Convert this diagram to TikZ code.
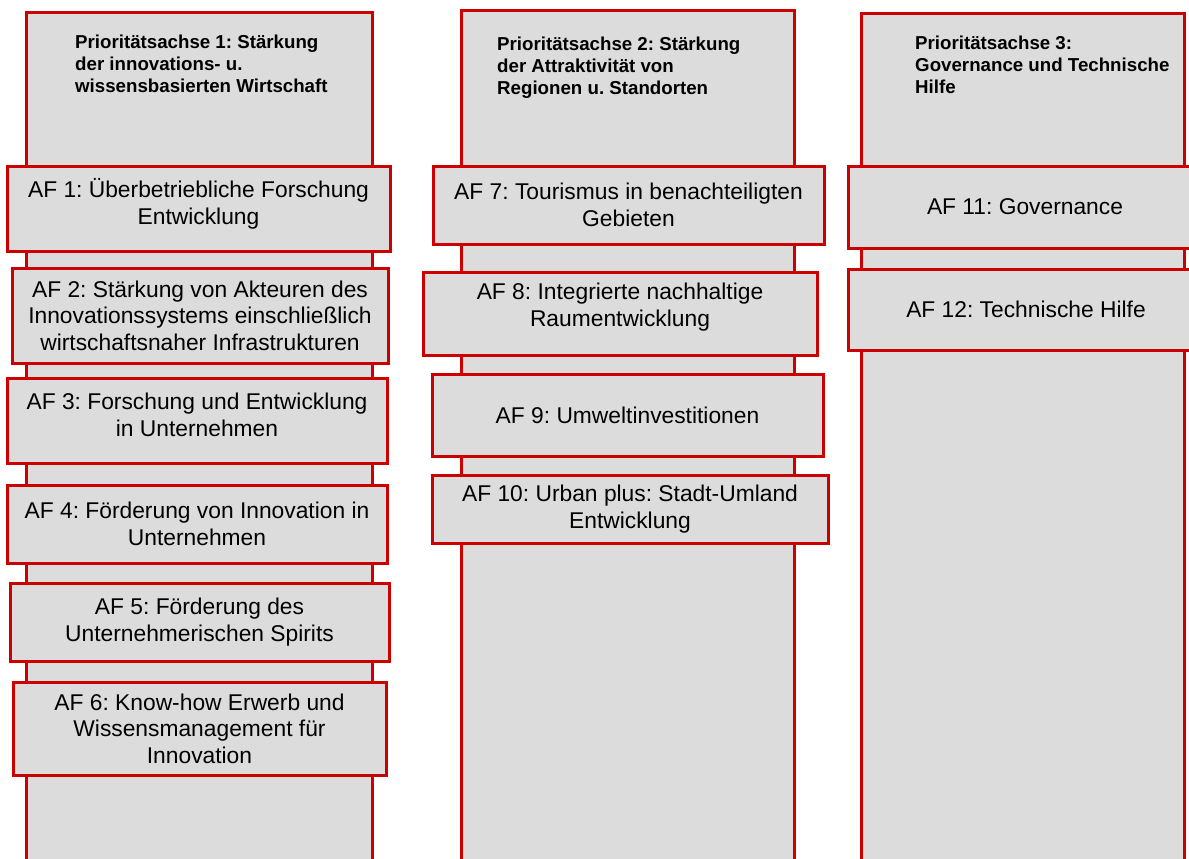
\documentclass[tikz,border=0pt]{standalone}
\usepackage{fontspec}
\setmainfont{Liberation Sans}
\frenchspacing
\definecolor{boxred}{HTML}{CC0000}
\definecolor{boxgray}{HTML}{DCDCDC}
\begin{document}
\begin{tikzpicture}[x=1pt,y=-1pt,
  colbox/.style={draw=boxred,fill=boxgray,line width=3pt},
  afbox/.style={draw=boxred,fill=boxgray,line width=3pt,align=center,inner sep=0pt,
    font=\fontsize{22.8}{26.6}\selectfont},
  aftext/.style={align=center,inner sep=0pt,font=\fontsize{22.8}{26.6}\selectfont},
  headtext/.style={anchor=north west,align=left,inner sep=0pt,
    font=\fontsize{18.7}{21.7}\selectfont\bfseries}]
\useasboundingbox (0,0) rectangle (1189,859);
\clip (0,0) rectangle (1189,859);
% columns
\path[colbox] (26,13) rectangle (372,880);
\path[colbox] (461,11) rectangle (794,880);
\path[colbox] (861,14) rectangle (1184,880);
% headers
\node[headtext] (h1) at (75,35) {Prioritätsachse 1: Stärkung\\der innovations- u.\\wissensbasierten Wirtschaft};
\node[headtext] (h2) at (497,37) {Prioritätsachse 2: Stärkung\\der Attraktivität von\\Regionen u. Standorten};
\node[headtext] (h3) at (915,36) {Prioritätsachse 3:\\Governance und Technische\\Hilfe};
% column 1
\node[afbox,minimum width=383pt,minimum height=85pt] (af1) at (198.5,208.5) {};
\node[aftext] (t1) at (198.5,204) {AF 1: Überbetriebliche Forschung\\Entwicklung};
\node[afbox,minimum width=376pt,minimum height=95pt] (af2) at (200,315.5) {AF 2: Stärkung von Akteuren des\\Innovationssystems einschließlich\\wirtschaftsnaher Infrastrukturen};
\node[afbox,minimum width=380pt,minimum height=85pt] (af3) at (197,420.5) {};
\node[aftext] (t3) at (197,415) {AF 3: Forschung und Entwicklung\\in Unternehmen};
\node[afbox,minimum width=380pt,minimum height=78pt] (af4) at (197,524) {AF 4: Förderung von Innovation in\\Unternehmen};
\node[afbox,minimum width=379pt,minimum height=78pt] (af5) at (199.5,622) {AF 5: Förderung des\\Unternehmerischen Spirits};
\node[afbox,minimum width=373pt,minimum height=93pt] (af6) at (199.5,728.5) {AF 6: Know-how Erwerb und\\Wissensmanagement für\\Innovation};
% column 2
\node[afbox,minimum width=391pt,minimum height=78pt] (af7) at (628.5,205) {AF 7: Tourismus in benachteiligten\\Gebieten};
\node[afbox,minimum width=394pt,minimum height=83pt] (af8) at (620,313.5) {};
\node[aftext] (t8) at (620,307) {AF 8: Integrierte nachhaltige\\Raumentwicklung};
\node[afbox,minimum width=391pt,minimum height=82pt] (af9) at (627.5,415) {AF 9: Umweltinvestitionen};
\node[afbox,minimum width=396pt,minimum height=68pt] (af10) at (630,509) {AF 10: Urban plus: Stadt-Umland\\Entwicklung};
% column 3
\node[afbox,minimum width=360pt,minimum height=82pt] (af11) at (1028,207) {};
\node[afbox,minimum width=360pt,minimum height=81pt] (af12) at (1028,309.5) {};
\node[aftext] (t11) at (1025,207) {AF 11: Governance};
\node[aftext] (t12) at (1026,309) {AF 12: Technische Hilfe};
\end{tikzpicture}
\end{document}
